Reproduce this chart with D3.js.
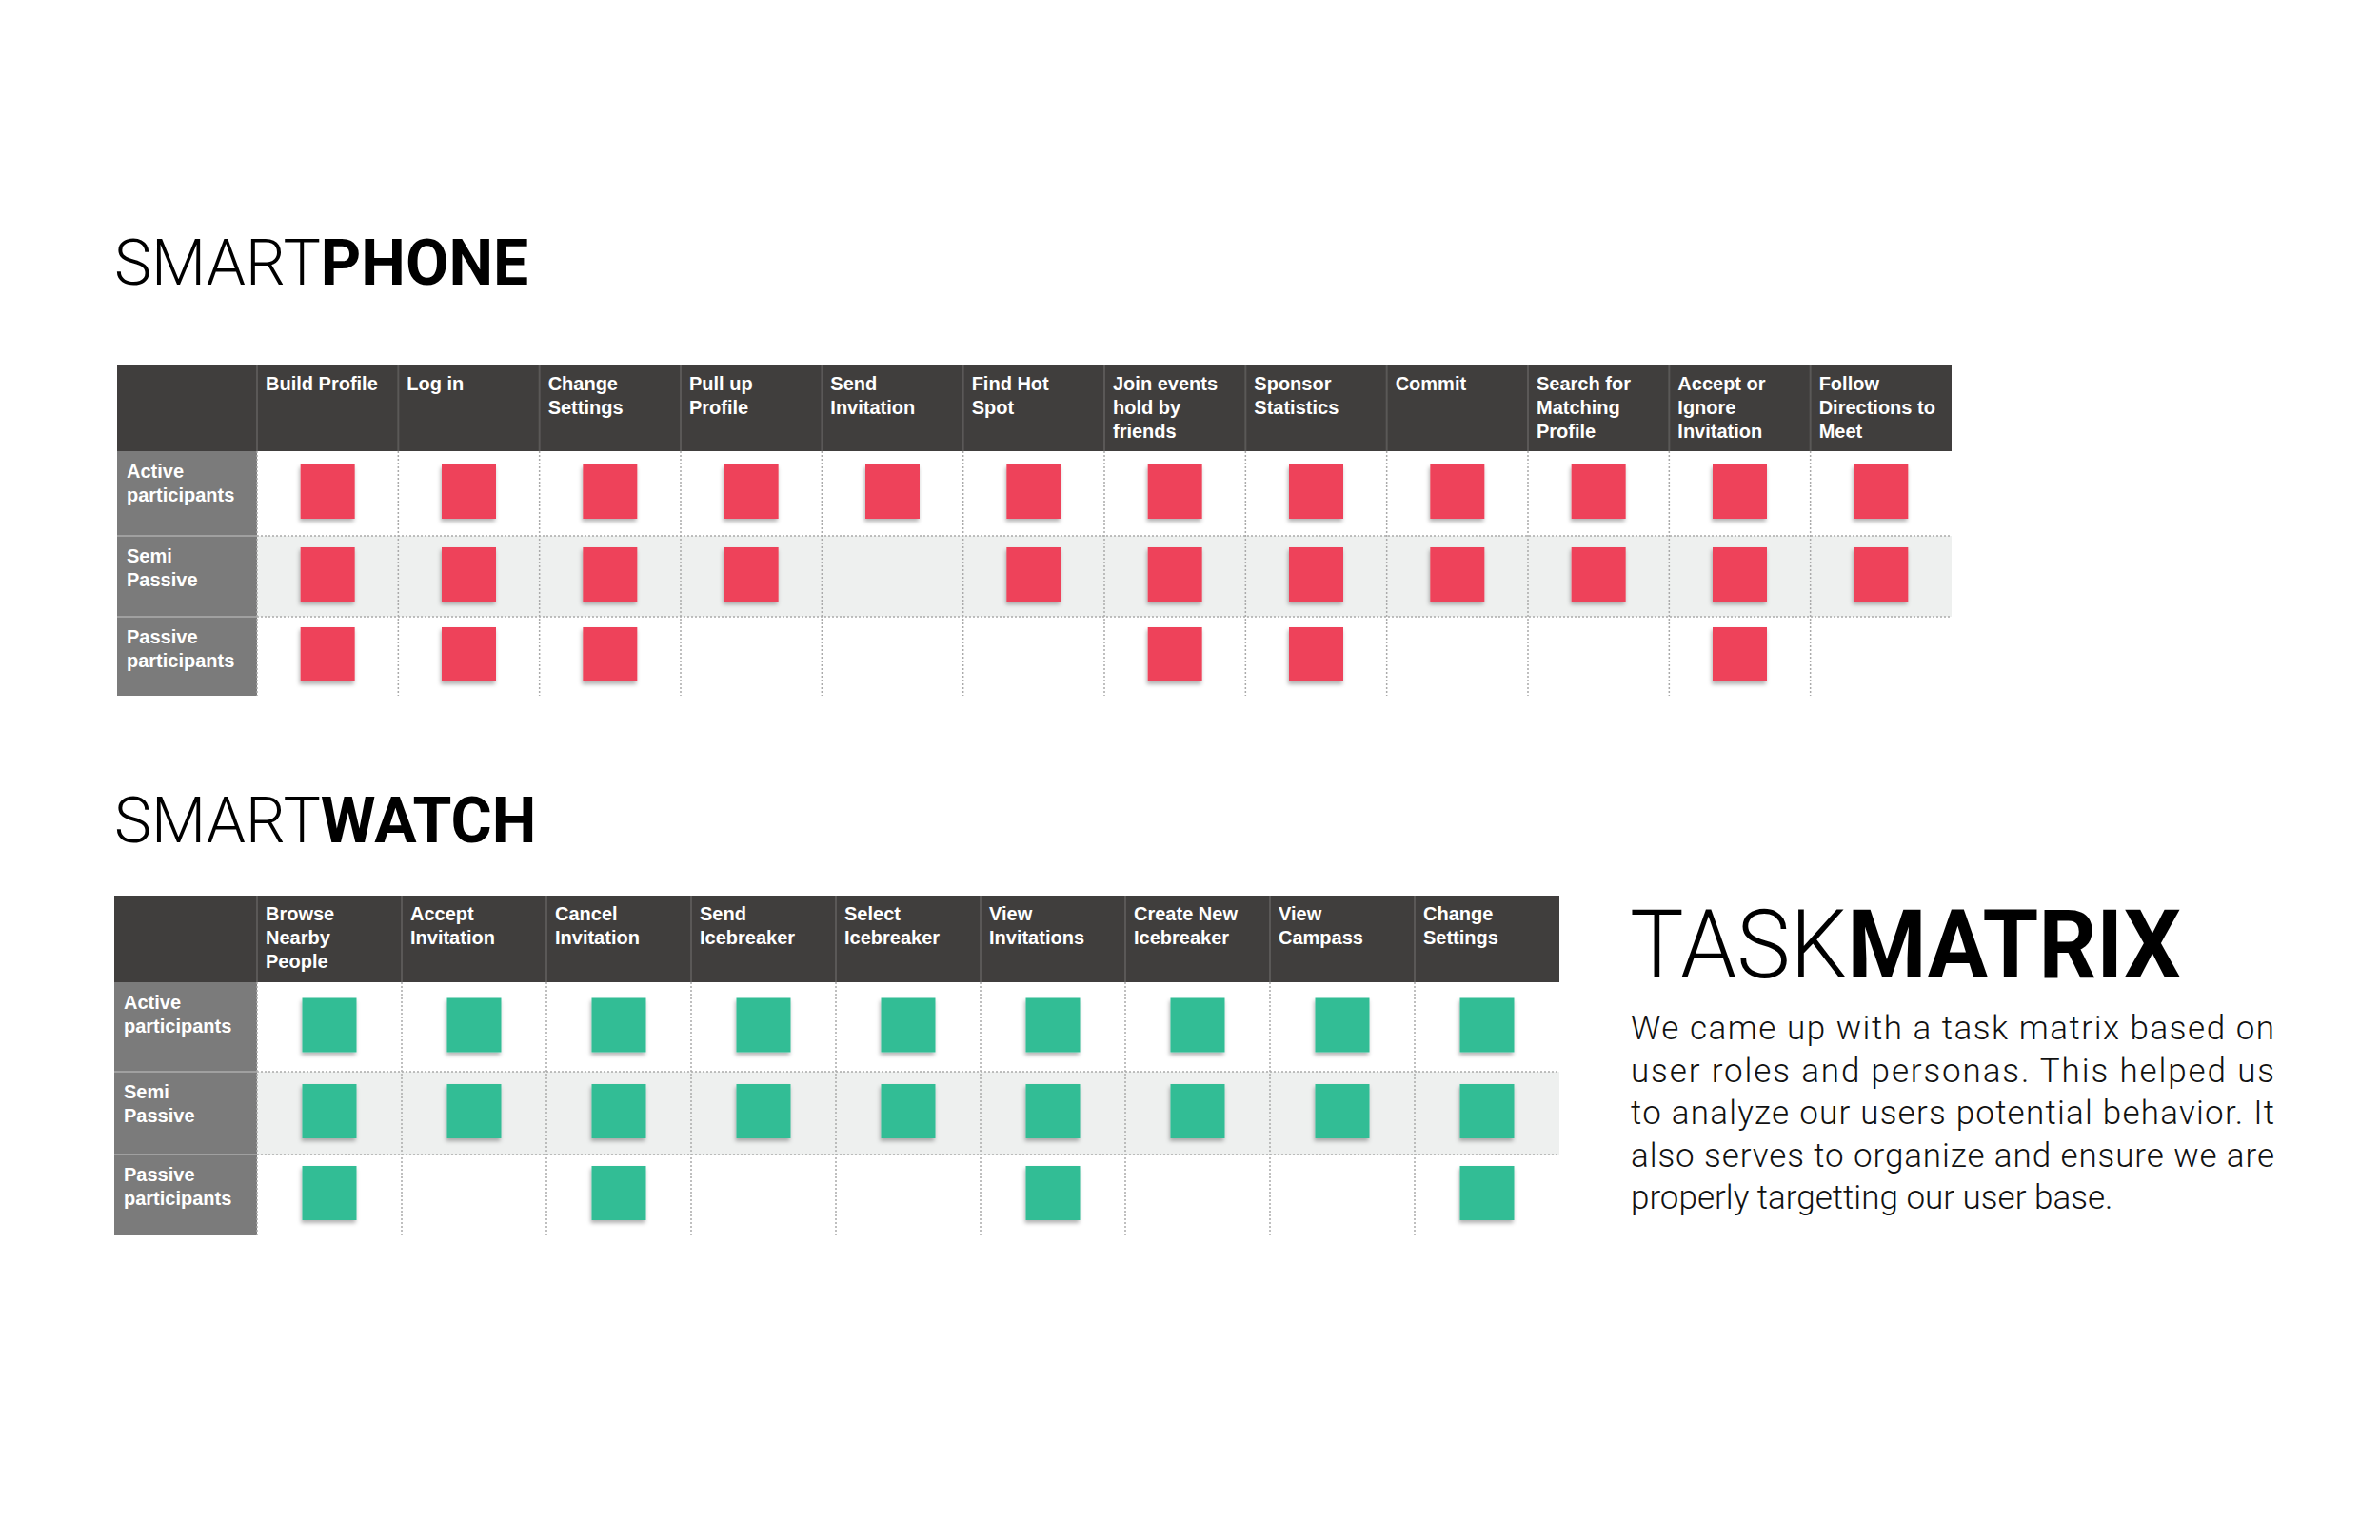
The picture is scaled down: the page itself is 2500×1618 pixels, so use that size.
<!DOCTYPE html>
<html><head><meta charset="utf-8">
<script src="https://cdn.jsdelivr.net/npm/d3@7/dist/d3.min.js"></script>
<style>body{margin:0;background:#fff}svg{display:block}</style>
</head><body>
<script>
const roles = ["Active\nparticipants", "Semi\nPassive", "Passive\nparticipants"];
const phoneTasks = ["Build Profile","Log in","Change\nSettings","Pull up\nProfile","Send\nInvitation","Find Hot\nSpot","Join events\nhold by\nfriends","Sponsor\nStatistics","Commit","Search for\nMatching\nProfile","Accept or\nIgnore\nInvitation","Follow\nDirections to\nMeet"];
const phoneActive  = [1,1,1,1,1,1,1,1,1,1,1,1];
const phoneSemi    = [1,1,1,1,0,1,1,1,1,1,1,1];
const phonePassive = [1,1,1,0,0,0,1,1,0,0,1,0];
const watchTasks = ["Browse\nNearby\nPeople","Accept\nInvitation","Cancel\nInvitation","Send\nIcebreaker","Select\nIcebreaker","View\nInvitations","Create New\nIcebreaker","View\nCampass","Change\nSettings"];
const watchActive  = [1,1,1,1,1,1,1,1,1];
const watchSemi    = [1,1,1,1,1,1,1,1,1];
const watchPassive = [1,0,1,0,0,1,0,0,1];
const paragraph = ["We came up with a task matrix based on","user roles and personas. This helped us","to analyze our users potential behavior. It","also serves to organize and ensure we are","properly targetting our user base."];

const W=2500,H=1618;
const svg=d3.select("body").append("svg").attr("width",W).attr("height",H);
const defs=svg.append("defs");
const f=defs.append("filter").attr("id","sh").attr("x","-20%").attr("y","-20%").attr("width","150%").attr("height","150%");
f.append("feDropShadow").attr("dx",-1).attr("dy",3).attr("stdDeviation",2).attr("flood-color","#000").attr("flood-opacity",0.3);

function title(x,y,light,bold,size){
  const t=svg.append("text").attr("x",x).attr("y",y).attr("font-size",size).attr("font-family","Roboto, Lato, sans-serif").attr("fill","#000");
  t.append("tspan").attr("font-weight",300).text(light);
  t.append("tspan").attr("font-weight",700).text(bold);
}

function matrix(cfg){
  const {x0,labelW,x1,headTop,headBot,rowBounds,tasks,rows,color,sq} = cfg;
  const g=svg.append("g");
  const xs=d3.scaleBand().domain(d3.range(tasks.length)).range([x0+labelW,x1]);
  const yTop=rowBounds.slice(0,3), yBot=rowBounds.slice(1);
  // header
  g.append("rect").attr("x",x0).attr("y",headTop).attr("width",x1-x0).attr("height",headBot-headTop).attr("fill","#403e3d");
  // row backgrounds
  roles.forEach((r,i)=>{
    g.append("rect").attr("x",x0+labelW).attr("y",yTop[i]).attr("width",x1-x0-labelW).attr("height",yBot[i]-yTop[i]).attr("fill",i===1?"#eef0ef":"#fff");
    g.append("rect").attr("x",x0).attr("y",yTop[i]).attr("width",labelW).attr("height",yBot[i]-yTop[i]).attr("fill","#7b7b7b");
    if(i>0) g.append("line").attr("x1",x0).attr("x2",x0+labelW).attr("y1",yTop[i]).attr("y2",yTop[i]).attr("stroke","#a0a0a0").attr("stroke-width",2);
    if(i>0) g.append("line").attr("x1",x0+labelW).attr("x2",x1).attr("y1",yTop[i]).attr("y2",yTop[i]).attr("stroke","#aaa").attr("stroke-width",1.5).attr("stroke-dasharray","2,2");
    const t=g.append("text").attr("fill","#fff").attr("font-family","Liberation Sans, Arial, sans-serif").attr("font-weight",700).attr("font-size",20);
    r.split("\n").forEach((l,k)=>t.append("tspan").attr("x",x0+10).attr("y",yTop[i]+28+k*25).text(l));
  });
  // column separators
  tasks.forEach((task,j)=>{
    const cx=xs(j);
    g.append("line").attr("x1",cx).attr("x2",cx).attr("y1",headTop).attr("y2",headBot).attr("stroke","#5a5857").attr("stroke-width",2);
    g.append("line").attr("x1",cx).attr("x2",cx).attr("y1",headBot).attr("y2",yBot[2]).attr("stroke","#aaa").attr("stroke-width",1.5).attr("stroke-dasharray","2,2");
    const t=g.append("text").attr("fill","#fff").attr("font-family","Liberation Sans, Arial, sans-serif").attr("font-weight",700).attr("font-size",20);
    task.split("\n").forEach((l,k)=>t.append("tspan").attr("x",cx+9).attr("y",headTop+26+k*25).text(l));
  });
  // squares
  rows.forEach((vals,i)=>{
    g.selectAll(null).data(vals.map((v,j)=>({v,j})).filter(d=>d.v)).enter().append("rect")
      .attr("x",d=>xs(d.j)+xs.bandwidth()/2-sq/2)
      .attr("y",(yTop[i]+yBot[i])/2-sq/2-2)
      .attr("width",sq).attr("height",sq).attr("fill",color).attr("filter","url(#sh)");
  });
}

title(120,299,"SMART","PHONE",66);
matrix({x0:123,labelW:147,x1:2050,headTop:384,headBot:474,rowBounds:[474,563,648,731],tasks:phoneTasks,rows:[phoneActive,phoneSemi,phonePassive],color:"#ee435a",sq:57});

title(120,885,"SMART","WATCH",66);
matrix({x0:120,labelW:150,x1:1638,headTop:941,headBot:1032,rowBounds:[1032,1126,1213,1298],tasks:watchTasks,rows:[watchActive,watchSemi,watchPassive],color:"#33bd95",sq:57});

// TASKMATRIX
const tm=svg.append("text").attr("x",1712).attr("y",1027).attr("font-size",100).attr("font-family","Roboto, sans-serif").attr("fill","#000").attr("textLength",579).attr("lengthAdjust","spacingAndGlyphs");
tm.append("tspan").attr("font-weight",300).text("TASK");
tm.append("tspan").attr("font-weight",700).text("MATRIX");

const p=svg.append("g").attr("font-family","Roboto, sans-serif").attr("font-weight",300).attr("font-size",35).attr("fill","#111");
paragraph.forEach((l,i)=>{
  const t=p.append("text").attr("x",1713).attr("y",1092+i*44.5).text(l);
  if(i<paragraph.length-1) t.attr("textLength",676).attr("lengthAdjust","spacing");
});
</script>
</body></html>
